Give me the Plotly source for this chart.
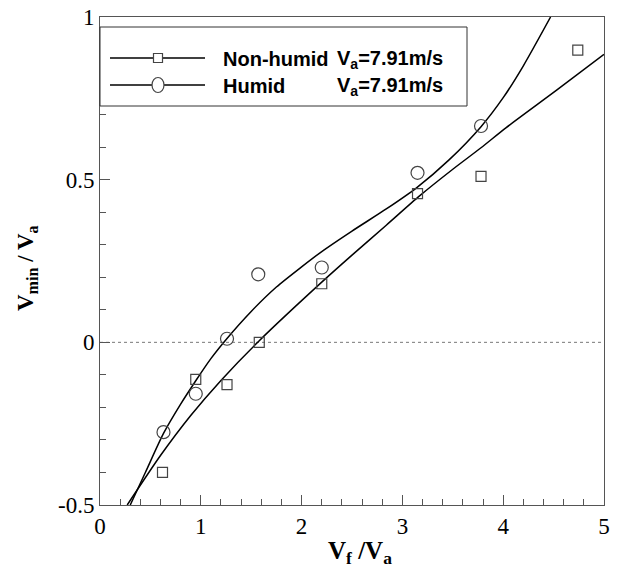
import plotly.graph_objects as go

x_nonhumid = [0.62, 0.95, 1.26, 1.58, 2.20, 3.15, 3.78, 4.74]
y_nonhumid = [-0.40, -0.114, -0.13, 0.0, 0.18, 0.457, 0.51, 0.898]

x_humid = [0.63, 0.95, 1.26, 1.57, 2.20, 3.15, 3.78]
y_humid = [-0.276, -0.158, 0.011, 0.209, 0.23, 0.521, 0.665]

# ---- fitted curves ----
fit_x_nonhumid = [0.27, 0.60, 0.90, 1.20, 1.58, 2.20, 2.50, 2.84, 3.17, 3.50, 3.78, 4.03, 4.53, 5.00]
fit_y_nonhumid = [-0.50, -0.348, -0.225, -0.117, 0.005, 0.185, 0.268, 0.36, 0.45, 0.532, 0.598, 0.66, 0.775, 0.885]

fit_x_humid = [0.30, 0.45, 0.63, 0.80, 0.95, 1.10, 1.26, 1.50, 1.75, 2.00, 2.20, 2.50, 2.84, 3.14, 3.46, 3.78, 4.00, 4.20, 4.47]
fit_y_humid = [-0.50, -0.40, -0.28, -0.19, -0.118, -0.05, 0.012, 0.095, 0.17, 0.232, 0.279, 0.342, 0.41, 0.475, 0.56, 0.663, 0.752, 0.85, 1.0]

legend_names = ["Non-humid", "Humid"]
legend_speed = "V<sub>a</sub>=7.91m/s"
x_title = "<b>V<sub>f</sub> /V<sub>a</sub></b>"
y_title = "<b>V<sub>min</sub> / V<sub>a</sub></b>"

x_range = [0, 5]
y_range = [-0.5, 1]
x_ticks = [0, 1, 2, 3, 4, 5]
y_ticks = [-0.5, 0, 0.5, 1]
y_tick_text = ["-0.5", "0", "0.5", "1"]

W, H = 620, 570
L, R, T, B = 100, 16, 17, 65

SERIF = "'Times New Roman', Times, 'Liberation Serif', 'DejaVu Serif', serif"
SANS = "Arial, 'Liberation Sans', sans-serif"

def px(xp):
    return (xp - L) / (W - L - R)

def py(yp):
    return (H - B - yp) / (H - T - B)

fig = go.Figure()

fig.add_trace(go.Scatter(x=fit_x_nonhumid, y=fit_y_nonhumid, mode="lines",
                         line=dict(color="black", width=1.5, shape="spline", smoothing=0.7),
                         showlegend=False, hoverinfo="skip"))
fig.add_trace(go.Scatter(x=fit_x_humid, y=fit_y_humid, mode="lines",
                         line=dict(color="black", width=1.5, shape="spline", smoothing=0.7),
                         showlegend=False, hoverinfo="skip"))
fig.add_trace(go.Scatter(x=x_nonhumid, y=y_nonhumid, mode="markers",
                         marker=dict(symbol="square-open", size=10, color="#444",
                                     line=dict(width=1.2, color="#444")),
                         name="Non-humid", showlegend=False))
fig.add_trace(go.Scatter(x=x_humid, y=y_humid, mode="markers",
                         marker=dict(symbol="circle-open", size=13, color="#444",
                                     line=dict(width=1.2, color="#444")),
                         name="Humid", showlegend=False))

shapes = []
# dotted zero line
shapes.append(dict(type="line", xref="x", yref="y", x0=x_range[0], x1=x_range[1], y0=0, y1=0,
                   line=dict(color="#777", width=1, dash="dot"), layer="below"))
# legend box
shapes.append(dict(type="rect", xref="paper", yref="paper",
                   x0=px(100), x1=px(467), y0=py(106), y1=py(27),
                   line=dict(color="#333", width=1), fillcolor="white", layer="above"))
row_y = [58, 85]
for yy in row_y:
    shapes.append(dict(type="line", xref="paper", yref="paper",
                       x0=px(110), x1=px(205), y0=py(yy), y1=py(yy),
                       line=dict(color="black", width=1.5), layer="above"))
shapes.append(dict(type="rect", xref="paper", yref="paper",
                   x0=px(153.5), x1=px(162.5), y0=py(62.5), y1=py(53.5),
                   line=dict(color="#444", width=1.2), fillcolor="white", layer="above"))
shapes.append(dict(type="circle", xref="paper", yref="paper",
                   x0=px(152), x1=px(164), y0=py(92.5), y1=py(77.5),
                   line=dict(color="#444", width=1.2), fillcolor="white", layer="above"))

annotations = []
lf = dict(family=SANS, size=20, color="black")
for name, yy in zip(legend_names, row_y):
    annotations.append(dict(xref="paper", yref="paper", x=px(221), y=py(yy + 1),
                            text="<b>%s</b>" % name, showarrow=False,
                            xanchor="left", yanchor="middle", font=lf))
    annotations.append(dict(xref="paper", yref="paper", x=px(335), y=py(yy + 1),
                            text="<b>%s</b>" % legend_speed, showarrow=False,
                            xanchor="left", yanchor="middle", font=lf))

# axis titles
annotations.append(dict(xref="paper", yref="paper", x=px(360), y=py(552),
                        text=x_title, showarrow=False, xanchor="center", yanchor="middle",
                        font=dict(family=SERIF, size=25, color="black")))
annotations.append(dict(xref="paper", yref="paper", x=px(27), y=py(268),
                        text=y_title, showarrow=False, xanchor="center", yanchor="middle",
                        textangle=-90,
                        font=dict(family=SERIF, size=23, color="black")))

axis_common = dict(
    showline=True, linecolor="#555", linewidth=1, mirror=True,
    ticks="inside", ticklen=10, tickcolor="#555", tickwidth=1,
    showgrid=False, zeroline=False,
    tickfont=dict(family=SERIF, size=23, color="black"),
)

fig.update_layout(
    width=W, height=H,
    margin=dict(l=L, r=R, t=T, b=B, autoexpand=False),
    paper_bgcolor="white", plot_bgcolor="white",
    shapes=shapes, annotations=annotations,
    xaxis=dict(range=x_range, tickvals=x_ticks, ticktext=[str(v) for v in x_ticks],
               minor=dict(dtick=0.2, ticks="inside", ticklen=6, tickcolor="#555", tickwidth=1),
               **axis_common),
    yaxis=dict(range=y_range, tickvals=y_ticks, ticktext=y_tick_text,
               minor=dict(dtick=0.1, ticks="inside", ticklen=6, tickcolor="#555", tickwidth=1),
               **axis_common),
)

fig.write_html("out.html", config={"displayModeBar": False},
               post_script="document.body.style.margin='0';")
